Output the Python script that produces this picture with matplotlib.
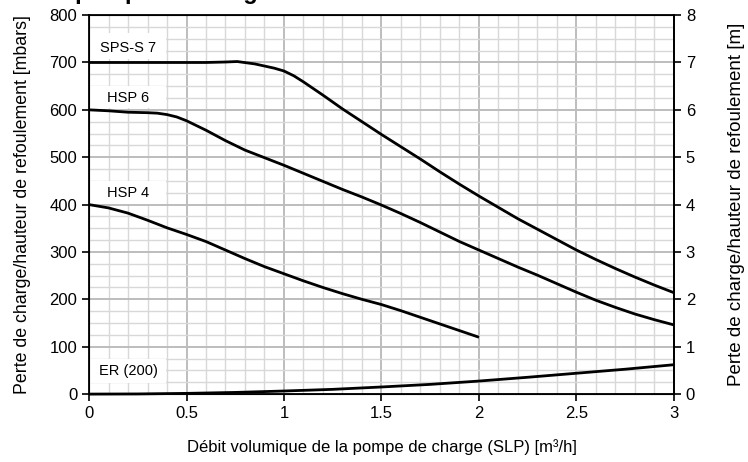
import matplotlib
matplotlib.use("Agg")
import matplotlib.pyplot as plt
from matplotlib.patches import Rectangle
from matplotlib.ticker import MultipleLocator

plt.rcParams["font.family"] = ["Liberation Sans", "DejaVu Sans"]

# courbes : débit [m3/h] -> perte de charge [mbar]
sps_debit = [0, 0.2, 0.4, 0.6, 0.7, 0.76, 0.85, 0.95, 1.0, 1.05, 1.1, 1.2, 1.3, 1.4,
             1.5, 1.6, 1.7, 1.8, 1.9, 2.0, 2.1, 2.2, 2.3, 2.4, 2.5, 2.6, 2.7, 2.8,
             2.9, 3.0]
sps_mbar = [700, 700, 700, 700, 701, 702, 697, 688, 682, 672, 659, 631, 602, 575,
            548, 522, 496, 469, 443, 418, 394, 370, 348, 326, 304, 284, 265, 247,
            230, 214]

hsp6_debit = [0, 0.1, 0.2, 0.3, 0.35, 0.4, 0.45, 0.5, 0.6, 0.7, 0.8, 0.9, 1.0, 1.1,
              1.2, 1.3, 1.4, 1.5, 1.6, 1.7, 1.8, 1.9, 2.0, 2.1, 2.2, 2.3, 2.4, 2.5,
              2.6, 2.7, 2.8, 2.9, 3.0]
hsp6_mbar = [600, 598, 595, 594, 593, 590, 585, 577, 557, 535, 515, 499, 483, 466,
             449, 432, 416, 399, 381, 362, 342, 322, 304, 286, 268, 251, 233, 215,
             198, 183, 169, 157, 146]

hsp4_debit = [0, 0.1, 0.2, 0.3, 0.4, 0.5, 0.6, 0.7, 0.8, 0.9, 1.0, 1.1, 1.2, 1.3,
              1.4, 1.5, 1.6, 1.7, 1.8, 1.9, 2.0]
hsp4_mbar = [400, 393, 382, 367, 351, 337, 322, 304, 286, 269, 254, 239, 225, 212,
             200, 189, 176, 162, 148, 134, 120]

er_debit = [0, 0.25, 0.5, 0.75, 1.0, 1.25, 1.5, 1.75, 2.0, 2.25, 2.5, 2.75, 3.0]
er_mbar = [0, 0.3, 1.5, 3.5, 6.5, 10, 15, 20.5, 27.5, 35.5, 44, 52.5, 62]

noms = ["SPS-S 7", "HSP 6", "HSP 4", "ER (200)"]
x_ticks = [0, 0.5, 1, 1.5, 2, 2.5, 3]
x_tick_labels = ["0", "0.5", "1", "1.5", "2", "2.5", "3"]

fig = plt.figure(figsize=(7.48, 4.62), dpi=100)
ax = fig.add_axes([0.119, 0.147, 0.782, 0.8203])

# ========== grille ==========
ax.set_xlim(0, 3)
ax.set_ylim(0, 800)
ax.xaxis.set_major_locator(MultipleLocator(0.5))
ax.xaxis.set_minor_locator(MultipleLocator(0.1))
ax.yaxis.set_major_locator(MultipleLocator(100))
ax.yaxis.set_minor_locator(MultipleLocator(25))
ax.set_axisbelow(True)
ax.grid(which="major", color="#bdbdbd", linewidth=1.4)
ax.grid(which="minor", color="#d8d8d8", linewidth=1.0)
ax.set_xticks(x_ticks)
ax.set_xticklabels(x_tick_labels)
ax.tick_params(which="minor", length=0)
ax.tick_params(which="major", direction="out", length=5, width=1.2,
               labelsize=12, colors="black")

# ========== courbes ==========
courbes = [(sps_debit, sps_mbar), (hsp6_debit, hsp6_mbar),
           (hsp4_debit, hsp4_mbar), (er_debit, er_mbar)]
for debit, mbar in courbes:
    ax.plot(debit, mbar, color="black", linewidth=2.0, zorder=3,
            solid_capstyle="butt", solid_joinstyle="round", clip_on=False)

# étiquettes dans des cadres blancs
cadres = [(708, 54, 730), (603, 47, 625), (402, 48, 425), (24, 50, 48)]
for nom, (y0, h, yt) in zip(noms, cadres):
    ax.add_patch(Rectangle((0.005, y0), 0.39, h, facecolor="white",
                           edgecolor="none", zorder=2))
    ax.text(0.2, yt, nom, fontsize=10.5, ha="center", va="center", zorder=4)

for s in ax.spines.values():
    s.set_linewidth(1.3)
    s.set_color("black")

ax.set_xlabel("Débit volumique de la pompe de charge (SLP) [m³/h]",
              fontsize=12, labelpad=13)
ax.set_ylabel("Perte de charge/hauteur de refoulement [mbars]",
              fontsize=12.8, labelpad=13)

# axe de droite en mètres
ax2 = ax.twinx()
ax2.set_ylim(0, 8)
ax2.set_yticks(range(0, 9))
ax2.tick_params(direction="out", length=5, width=1.2, labelsize=12)
ax2.spines["right"].set_linewidth(1.3)
ax2.set_ylabel("Perte de charge/hauteur de refoulement [m]",
               fontsize=13.5, labelpad=24)

# titre coupé en haut de l'image
fig.text(-0.019, 1.0 + 1 / 462, "Courbe pompe de charge", fontsize=17,
         fontweight="bold", va="baseline", ha="left")

fig.savefig("out.png", dpi=100)
